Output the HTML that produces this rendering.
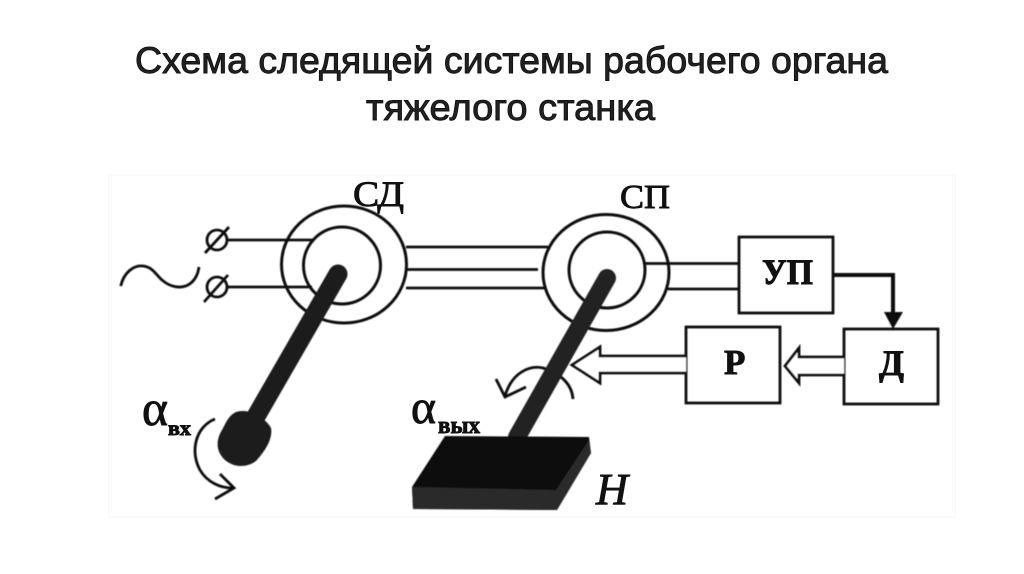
<!DOCTYPE html>
<html lang="ru"><head><meta charset="utf-8"><style>
html,body{margin:0;padding:0;background:#fff;width:1024px;height:574px;overflow:hidden}
svg{display:block}
.t{font-family:"Liberation Sans",sans-serif;font-size:37px;fill:#222;stroke:#111;stroke-width:.9px}
.s{font-family:"Liberation Serif",serif;fill:#111;stroke:#111;stroke-width:.9px}
</style></head><body>
<svg width="1024" height="574" viewBox="0 0 1024 574" xmlns="http://www.w3.org/2000/svg">
<defs>
<filter id="soft" x="-5%" y="-5%" width="110%" height="110%"><feGaussianBlur stdDeviation="0.4"/></filter>
</defs>
<text class="t" x="135" y="73" textLength="753" lengthAdjust="spacingAndGlyphs">Схема следящей системы рабочего органа</text>
<text class="t" x="366" y="120" textLength="289" lengthAdjust="spacingAndGlyphs">тяжелого станка</text>
<rect x="108.500" y="175" width="847" height="342" fill="#fff" stroke="#f6f6f6" stroke-width="1"/>
<g filter="url(#soft)">
<g fill="none" stroke="#0c0c0c" stroke-width="2.800">
<ellipse cx="344" cy="264.500" rx="62.500" ry="58.500" stroke-width="3"/>
<ellipse cx="342" cy="265.500" rx="38.500" ry="38.500" stroke-width="3"/>
<ellipse cx="606" cy="272.500" rx="63" ry="58" stroke-width="3"/>
<ellipse cx="607" cy="270" rx="38" ry="38" stroke-width="3"/>
<path d="M228 240H313M228 287H312"/>
<path d="M406 247H548M406 269.500H538M406 288H545"/>
<path d="M645 263.500H739M668 289H739"/>
<ellipse cx="217" cy="240" rx="10" ry="10"/>
<ellipse cx="217" cy="287" rx="10" ry="10"/>
<path d="M205 253L229 227M204 302L228 275"/>
<path d="M120.700 286C124 272 134 265 143 266C153 267 156 275 162 280C170 287 180 289 188 285C195 281 198 274 199 267"/>
<rect x="739" y="237" width="94" height="76"/>
<rect x="686" y="327" width="94" height="76"/>
<rect x="844" y="329" width="94" height="75"/>
<path d="M844 357H799V348L785 366L799 383V375H844" fill="#fff"/>
<path d="M686 356H600V347L572 365L600 383V373H686" fill="#fff"/>
<path d="M215 419C195 427 190 452 200 470C207 482 220 488 232 488"/>
<path d="M220 474L234 488L215 499"/>
<path d="M573 399C572 385 562 374 543 368C530 365 512 372 505 396"/>
<path d="M496 379L505 397L526 387"/>
</g>
<path d="M833 275H893V315" fill="none" stroke="#0c0c0c" stroke-width="4"/>
<path d="M884 312H903L893 329Z" fill="#0c0c0c"/>
<path d="M338 274L247 432" stroke="#1c1c1c" stroke-width="19" stroke-linecap="round"/>
<path d="M236 412C248 408 264 416 271 428C273 440 264 452 256 461C245 469 231 467 223 458C215 449 217 438 222 430C226 423 228 416 236 412Z" fill="#1a1a1a"/>
<path d="M607 278L517 437" stroke="#222" stroke-width="18" stroke-linecap="round"/>
<path d="M445 436L589 437L591 453L557 510L413 509L412 487Z" fill="#0a0a0a"/>
<path d="M412 487L556 490L589 440L591 453L557 510L413 509Z" fill="#2b2b2b"/>
</g>
<g class="s">
<text class="s" x="353" y="206" font-size="36" textLength="51" lengthAdjust="spacingAndGlyphs">СД</text>
<text class="s" x="620" y="208" font-size="34" textLength="50" lengthAdjust="spacingAndGlyphs">СП</text>
<text class="s" x="762" y="284" font-size="36" font-weight="bold" stroke-width="0" textLength="51" lengthAdjust="spacingAndGlyphs">УП</text>
<text class="s" x="724" y="374" font-size="35" font-weight="bold" stroke-width="0">Р</text>
<text class="s" x="879" y="375" font-size="36" font-weight="bold" stroke-width="0" textLength="25" lengthAdjust="spacingAndGlyphs">Д</text>
<text class="s" x="142" y="425" font-size="50" stroke-width="1.500" textLength="26" lengthAdjust="spacingAndGlyphs">α</text>
<text class="s" x="168" y="435" font-size="20" font-weight="bold" stroke-width="0" textLength="23" lengthAdjust="spacingAndGlyphs">вх</text>
<text class="s" x="411" y="423" font-size="48" stroke-width="1.500" textLength="25" lengthAdjust="spacingAndGlyphs">α</text>
<text class="s" x="438" y="433" font-size="24" font-weight="bold" stroke-width="0" textLength="42" lengthAdjust="spacingAndGlyphs">вых</text>
<text class="s" x="596" y="504" font-size="44" font-style="italic" stroke-width="0.400" textLength="32" lengthAdjust="spacingAndGlyphs">Н</text>
</g>
</svg>
</body></html>
